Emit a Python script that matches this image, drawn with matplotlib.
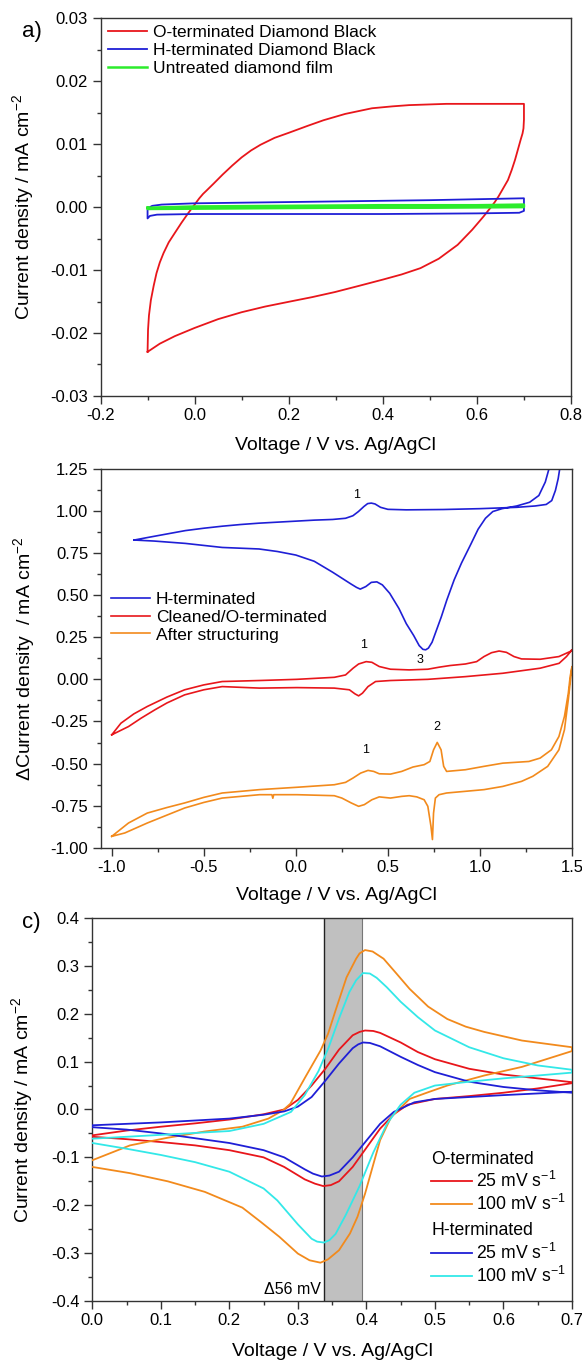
import matplotlib
matplotlib.use('Agg')
import matplotlib.pyplot as plt
from matplotlib.ticker import MultipleLocator, FormatStrFormatter

plt.rcParams['font.family'] = ['Liberation Sans', 'DejaVu Sans']
plt.rcParams['mathtext.fontset'] = 'custom'
plt.rcParams['mathtext.rm'] = 'Liberation Sans'
plt.rcParams['mathtext.it'] = 'Liberation Sans'
plt.rcParams['axes.unicode_minus'] = False

RED = '#e8161b'
BLUE = '#1f1fd6'
GREEN = '#2cec2c'
ORANGE = '#f28a1c'
CYAN = '#33e8e8'

# ---- panel a: CVs of diamond black ----
a_o_v = [-0.1, -0.099, -0.097, -0.093, -0.087, -0.081, -0.074, -0.066, -0.055, -0.042, -0.028,
         -0.014, 0.0, 0.01, 0.018, 0.025, 0.04, 0.06, 0.08, 0.1, 0.12, 0.14, 0.17, 0.2, 0.24,
         0.274, 0.32, 0.377, 0.42, 0.456, 0.535, 0.62, 0.7,
         0.7, 0.699, 0.697, 0.693, 0.687, 0.681, 0.674, 0.666, 0.656, 0.646, 0.638, 0.63,
         0.614, 0.59, 0.559, 0.519, 0.48, 0.44, 0.401, 0.35, 0.298, 0.25, 0.203, 0.15, 0.1,
         0.05, 0.0, -0.042, -0.074, -0.1]
a_o_j = [-0.023, -0.0195, -0.0172, -0.0148, -0.0125, -0.0105, -0.0088, -0.0073, -0.0056,
         -0.0041, -0.0025, -0.001, 0.0004, 0.0014, 0.0021, 0.0026, 0.0037, 0.0052, 0.0066,
         0.0079, 0.009, 0.0099, 0.011, 0.0118, 0.0129, 0.0138, 0.0148, 0.0157, 0.016, 0.0162,
         0.0164, 0.0164, 0.0164,
         0.0139, 0.0125, 0.0117, 0.0107, 0.0091, 0.0075, 0.0059, 0.0043, 0.003, 0.0017, 0.0008,
         0.0, -0.0015, -0.0036, -0.006, -0.0082, -0.0097, -0.0107, -0.0115, -0.0125, -0.0135,
         -0.0143, -0.015, -0.0158, -0.0167, -0.0178, -0.0192, -0.0205, -0.0217, -0.023]
a_h_v = [-0.1, -0.09, -0.07, 0.0, 0.1, 0.3, 0.5, 0.7, 0.7, 0.69, 0.6, 0.4, 0.2, 0.0, -0.08,
         -0.095, -0.1, -0.1]
a_h_j = [-0.0002, 0.0002, 0.0004, 0.0006, 0.0007, 0.0009, 0.0011, 0.0014, -0.0006, -0.0009,
         -0.001, -0.0011, -0.0011, -0.0011, -0.0012, -0.0014, -0.0018, -0.0002]
a_u_v = [-0.1, 0.0, 0.2, 0.4, 0.6, 0.7, 0.7, 0.5, 0.3, 0.1, -0.1, -0.1]
a_u_j = [-0.0001, 0.0001, 0.0002, 0.0003, 0.0003, 0.0004, 0.0, -0.0001, -0.0001, -0.0002,
         -0.0003, -0.0001]

# ---- panel b: delta current density ----
b_h_v = [-0.878, -0.8, -0.7, -0.6, -0.5, -0.4, -0.3, -0.2, -0.1, 0.0, 0.1, 0.2, 0.27, 0.31,
         0.34, 0.37, 0.39, 0.41, 0.43, 0.46, 0.5, 0.6, 0.8, 1.0, 1.2, 1.3, 1.36, 1.39, 1.41,
         1.425, 1.435,
         1.378, 1.355, 1.32, 1.27, 1.2, 1.12, 1.07, 1.03, 0.99, 0.95, 0.9, 0.86, 0.82, 0.79,
         0.76, 0.74, 0.72, 0.705, 0.69, 0.67, 0.64, 0.6, 0.56, 0.51, 0.47, 0.44, 0.41, 0.38,
         0.35, 0.33, 0.3, 0.25, 0.2, 0.1, 0.0, -0.1, -0.2, -0.4, -0.6, -0.77, -0.878]
b_h_j = [0.826, 0.842, 0.862, 0.882, 0.896, 0.908, 0.918, 0.926, 0.932, 0.938, 0.944, 0.948,
         0.955, 0.97, 0.995, 1.025, 1.042, 1.045, 1.04, 1.02, 1.008, 1.005, 1.007, 1.012, 1.02,
         1.028, 1.037, 1.06, 1.12, 1.19, 1.26,
         1.26, 1.17, 1.09, 1.05, 1.028, 1.012, 0.995, 0.955, 0.89, 0.8, 0.69, 0.59, 0.47, 0.37,
         0.28, 0.22, 0.185, 0.175, 0.178, 0.2, 0.26, 0.33, 0.42, 0.51, 0.56, 0.578, 0.575, 0.55,
         0.535, 0.545, 0.565, 0.6, 0.635, 0.7, 0.737, 0.758, 0.773, 0.782, 0.806, 0.82, 0.826]
b_o_v = [-1.0, -0.95, -0.88, -0.807, -0.7, -0.604, -0.5, -0.4, -0.197, 0.006, 0.209, 0.27,
         0.311, 0.341, 0.382, 0.413, 0.453, 0.514, 0.616, 0.717, 0.778, 0.839, 0.921, 0.982,
         1.022, 1.063, 1.104, 1.144, 1.185, 1.226, 1.327, 1.429, 1.49, 1.5,
         1.47, 1.43, 1.327, 1.124, 0.921, 0.717, 0.514, 0.433, 0.392, 0.362, 0.341, 0.321,
         0.291, 0.209, 0.006, -0.197, -0.4, -0.5, -0.604, -0.7, -0.766, -0.84, -0.909, -1.0]
b_o_j = [-0.329, -0.26, -0.205, -0.161, -0.105, -0.062, -0.033, -0.013, -0.007, 0.0, 0.012,
         0.026, 0.066, 0.091, 0.105, 0.101, 0.076, 0.06, 0.056, 0.06, 0.072, 0.082, 0.091,
         0.105, 0.135, 0.158, 0.168, 0.16, 0.135, 0.121, 0.119, 0.135, 0.165, 0.175,
         0.135, 0.095, 0.066, 0.036, 0.016, 0.0, -0.007, -0.013, -0.043, -0.082, -0.098,
         -0.086, -0.062, -0.052, -0.049, -0.052, -0.043, -0.062, -0.092, -0.14, -0.181, -0.23,
         -0.28, -0.329]
b_s_v = [-1.0, -0.909, -0.807, -0.7, -0.604, -0.5, -0.4, -0.197, 0.006, 0.209, 0.27, 0.311,
         0.352, 0.392, 0.423, 0.453, 0.514, 0.575, 0.636, 0.697, 0.728, 0.748, 0.768, 0.789,
         0.803, 0.819, 0.921, 1.022, 1.124, 1.266, 1.327, 1.388, 1.429, 1.459, 1.48, 1.49, 1.5,
         1.48, 1.459, 1.429, 1.368, 1.287, 1.226, 1.124, 1.022, 0.921, 0.819, 0.778, 0.758,
         0.748, 0.742, 0.734, 0.717, 0.697, 0.657, 0.616, 0.575, 0.514, 0.453, 0.413, 0.372,
         0.341, 0.301, 0.25, 0.209, 0.006, -0.12, -0.125, -0.13, -0.197, -0.4, -0.5, -0.604,
         -0.7, -0.807, -0.929, -1.0]
b_s_j = [-0.931, -0.852, -0.793, -0.76, -0.733, -0.7, -0.674, -0.654, -0.64, -0.625, -0.611,
         -0.585, -0.556, -0.54, -0.546, -0.56, -0.562, -0.546, -0.52, -0.506, -0.487, -0.418,
         -0.374, -0.418, -0.516, -0.546, -0.536, -0.516, -0.497, -0.487, -0.467, -0.418,
         -0.339, -0.22, -0.082, 0.016, 0.076,
         -0.12, -0.299, -0.418, -0.516, -0.575, -0.605, -0.635, -0.654, -0.664, -0.674, -0.684,
         -0.704, -0.793, -0.95, -0.872, -0.753, -0.714, -0.697, -0.69, -0.694, -0.704, -0.697,
         -0.714, -0.743, -0.753, -0.733, -0.704, -0.69, -0.684, -0.684, -0.705, -0.684, -0.684,
         -0.704, -0.73, -0.763, -0.805, -0.852, -0.911, -0.931]
b_peak_labels = ['1', '1', '3', '2', '1']
b_peak_v = [0.331, 0.368, 0.677, 0.768, 0.378]
b_peak_j = [1.092, 0.204, 0.115, -0.28, -0.418]

# ---- panel c: ferri/ferrocyanide CVs ----
c_o25_v = [0.0, 0.05, 0.1, 0.15, 0.2, 0.25, 0.28, 0.3, 0.32, 0.34, 0.36, 0.38, 0.39, 0.398,
           0.41, 0.42, 0.45, 0.475, 0.5, 0.55, 0.6, 0.65, 0.7,
           0.7, 0.65, 0.6, 0.55, 0.5, 0.46, 0.44, 0.42, 0.4, 0.38, 0.36, 0.348, 0.337, 0.325,
           0.31, 0.28, 0.25, 0.2, 0.15, 0.1, 0.05, 0.0]
c_o25_j = [-0.054, -0.044, -0.036, -0.029, -0.021, -0.01, 0.0, 0.02, 0.05, 0.085, 0.125,
           0.155, 0.162, 0.165, 0.164, 0.16, 0.14, 0.12, 0.105, 0.085, 0.073, 0.065, 0.057,
           0.055, 0.044, 0.035, 0.028, 0.022, 0.01, -0.01, -0.04, -0.08, -0.12, -0.15, -0.158,
           -0.16, -0.155, -0.146, -0.12, -0.1, -0.085, -0.075, -0.068, -0.062, -0.057]
c_o100_v = [0.0, 0.055, 0.11, 0.164, 0.219, 0.257, 0.278, 0.289, 0.311, 0.333, 0.344, 0.355,
            0.371, 0.385, 0.39, 0.398, 0.409, 0.425, 0.442, 0.463, 0.49, 0.518, 0.545, 0.572,
            0.627, 0.7,
            0.7, 0.627, 0.572, 0.518, 0.49, 0.463, 0.436, 0.42, 0.409, 0.398, 0.387, 0.376,
            0.36, 0.344, 0.333, 0.317, 0.3, 0.273, 0.246, 0.219, 0.164, 0.11, 0.055, 0.0]
c_o100_j = [-0.106, -0.075, -0.059, -0.046, -0.036, -0.019, -0.002, 0.012, 0.068, 0.123, 0.158,
            0.207, 0.276, 0.315, 0.326, 0.333, 0.33, 0.315, 0.287, 0.252, 0.215, 0.189, 0.173,
            0.162, 0.144, 0.13,
            0.122, 0.089, 0.071, 0.05, 0.036, 0.022, -0.016, -0.064, -0.12, -0.176, -0.224,
            -0.259, -0.294, -0.313, -0.32, -0.315, -0.301, -0.266, -0.235, -0.205, -0.172,
            -0.15, -0.133, -0.12]
c_h25_v = [0.0, 0.1, 0.2, 0.25, 0.28, 0.3, 0.32, 0.34, 0.36, 0.38, 0.388, 0.395, 0.405, 0.42,
           0.45, 0.475, 0.5, 0.55, 0.6, 0.65, 0.7,
           0.7, 0.6, 0.5, 0.47, 0.44, 0.42, 0.4, 0.38, 0.36, 0.346, 0.335, 0.322, 0.31, 0.28,
           0.25, 0.2, 0.15, 0.1, 0.05, 0.0]
c_h25_j = [-0.033, -0.027, -0.019, -0.011, -0.004, 0.006, 0.026, 0.06, 0.096, 0.128, 0.136,
           0.14, 0.139, 0.132, 0.11, 0.093, 0.078, 0.058, 0.047, 0.04, 0.035,
           0.037, 0.03, 0.022, 0.015, -0.005, -0.03, -0.065, -0.1, -0.13, -0.138, -0.14,
           -0.134, -0.125, -0.1, -0.085, -0.07, -0.06, -0.05, -0.042, -0.037]
c_h100_v = [0.0, 0.1, 0.2, 0.25, 0.29, 0.31, 0.33, 0.345, 0.36, 0.375, 0.385, 0.395, 0.405,
            0.415, 0.43, 0.45, 0.475, 0.5, 0.55, 0.6, 0.65, 0.7,
            0.7, 0.6, 0.55, 0.5, 0.47, 0.45, 0.43, 0.41, 0.39, 0.37, 0.355, 0.346, 0.338, 0.328,
            0.32, 0.3, 0.27, 0.25, 0.2, 0.15, 0.1, 0.05, 0.0]
c_h100_j = [-0.061, -0.053, -0.045, -0.03, -0.005, 0.03, 0.08, 0.13, 0.19, 0.245, 0.27, 0.285,
            0.284, 0.275, 0.255, 0.225, 0.193, 0.165, 0.13, 0.107, 0.092, 0.083,
            0.077, 0.065, 0.058, 0.05, 0.035, 0.01, -0.03, -0.09, -0.16, -0.22, -0.26, -0.273,
            -0.278, -0.276, -0.27, -0.24, -0.19, -0.165, -0.13, -0.11, -0.095, -0.082, -0.07]
c_band = [0.338, 0.394]


def style_axes(ax, xmaj, xmin, ymaj, ymin, xfmt, yfmt):
    ax.xaxis.set_major_locator(MultipleLocator(xmaj))
    ax.xaxis.set_minor_locator(MultipleLocator(xmin))
    ax.yaxis.set_major_locator(MultipleLocator(ymaj))
    ax.yaxis.set_minor_locator(MultipleLocator(ymin))
    ax.xaxis.set_major_formatter(FormatStrFormatter(xfmt))
    ax.yaxis.set_major_formatter(FormatStrFormatter(yfmt))
    ax.tick_params(which='both', direction='out', top=False, right=False,
                   labelsize=12, pad=3, color='#333333')
    ax.tick_params(which='major', length=6, width=1)
    ax.tick_params(which='minor', length=3, width=1)
    for s in ax.spines.values():
        s.set_linewidth(1.0)
        s.set_color('#333333')


fig = plt.figure(figsize=(5.82, 13.62), dpi=100)

# panel a
ax1 = fig.add_axes([0.1727, 0.7093, 0.8084, 0.2773])
ax1.plot(a_o_v, a_o_j, color=RED, lw=1.3, label='O-terminated Diamond Black')
ax1.plot(a_h_v, a_h_j, color=BLUE, lw=1.3, label='H-terminated Diamond Black')
ax1.plot(a_u_v, a_u_j, color=GREEN, lw=1.8, label='Untreated diamond film')
ax1.set_xlim(-0.2, 0.8)
ax1.set_ylim(-0.03, 0.03)
style_axes(ax1, 0.2, 0.1, 0.01, 0.005, '%.1f', '%.2f')
ax1.set_xlabel('Voltage / V vs. Ag/AgCl', fontsize=14)
ax1.set_ylabel('Current density / mA cm$^{-2}$', fontsize=14)
ax1.legend(loc='upper left', bbox_to_anchor=(0.016, 0.982), frameon=False, fontsize=12.5,
           handlelength=2.25, handletextpad=0.32, labelspacing=0.15, borderpad=0,
           borderaxespad=0)

# panel b
ax2 = fig.add_axes([0.173, 0.3774, 0.8098, 0.2786])
ax2.plot(b_h_v, b_h_j, color=BLUE, lw=1.2, label='H-terminated')
ax2.plot(b_o_v, b_o_j, color=RED, lw=1.2, label='Cleaned/O-terminated')
ax2.plot(b_s_v, b_s_j, color=ORANGE, lw=1.2, label='After structuring')
for t, v, j in zip(b_peak_labels, b_peak_v, b_peak_j):
    ax2.text(v, j, t, fontsize=9, ha='center', va='center')
ax2.set_xlim(-1.06, 1.5)
ax2.set_ylim(-1.0, 1.25)
style_axes(ax2, 0.5, 0.25, 0.25, 0.125, '%.1f', '%.2f')
ax2.set_xlabel('Voltage / V vs. Ag/AgCl', fontsize=14)
ax2.set_ylabel('\u0394Current density  / mA cm$^{-2}$', fontsize=14)
ax2.legend(loc='upper left', bbox_to_anchor=(0.022, 0.675), frameon=False, fontsize=12.5,
           handlelength=2.25, handletextpad=0.32, labelspacing=0.15, borderpad=0,
           borderaxespad=0)

# panel c
ax3 = fig.add_axes([0.1586, 0.0448, 0.8242, 0.2812])
ax3.axvspan(c_band[0], c_band[1], color='#c0c0c0', lw=0, zorder=0)
ax3.axvline(c_band[0], color='#222222', lw=1.0, zorder=1)
ax3.axvline(c_band[1], color='#777777', lw=0.8, zorder=1)
l1, = ax3.plot(c_o25_v, c_o25_j, color=RED, lw=1.3, zorder=3)
l2, = ax3.plot(c_o100_v, c_o100_j, color=ORANGE, lw=1.3, zorder=3)
l3, = ax3.plot(c_h25_v, c_h25_j, color=BLUE, lw=1.3, zorder=3)
l4, = ax3.plot(c_h100_v, c_h100_j, color=CYAN, lw=1.3, zorder=3)
ax3.text(0.334, -0.377, '\u039456 mV', fontsize=11.5, ha='right', va='center')
ax3.set_xlim(0, 0.7)
ax3.set_ylim(-0.4, 0.4)
style_axes(ax3, 0.1, 0.05, 0.1, 0.05, '%.1f', '%.1f')
ax3.set_xlabel('Voltage / V vs. Ag/AgCl', fontsize=14)
ax3.set_ylabel('Current density / mA cm$^{-2}$', fontsize=14)
leg_kw = dict(loc='upper left', frameon=False, fontsize=12.7, title_fontsize=12.7,
              handlelength=2.3, handletextpad=0.25, labelspacing=0.18, borderpad=0,
              borderaxespad=0, alignment='left')
lg1 = ax3.legend([l1, l2], ['25 mV s$^{-1}$', '100 mV s$^{-1}$'], title='O-terminated',
                 bbox_to_anchor=(0.707, 0.392), **leg_kw)
ax3.add_artist(lg1)
ax3.legend([l3, l4], ['25 mV s$^{-1}$', '100 mV s$^{-1}$'], title='H-terminated',
           bbox_to_anchor=(0.707, 0.205), **leg_kw)

# label positions
for ax in (ax1, ax2, ax3):
    ax.yaxis.label.set_va('center')
    ax.xaxis.label.set_va('center')
ax1.yaxis.set_label_coords(-0.1645, 0.5)
ax2.yaxis.set_label_coords(-0.163, 0.5)
ax3.yaxis.set_label_coords(-0.146, 0.5)
ax1.xaxis.set_label_coords(0.5, -0.13)
ax2.xaxis.set_label_coords(0.5, -0.124)
ax3.xaxis.set_label_coords(0.5, -0.132)

fig.text(22 / 582, 1 - 31.7 / 1362, 'a)', fontsize=16, ha='left', va='center')
fig.text(22 / 582, 1 - 922.5 / 1362, 'c)', fontsize=16, ha='left', va='center')

fig.savefig('out.png', dpi=100)
